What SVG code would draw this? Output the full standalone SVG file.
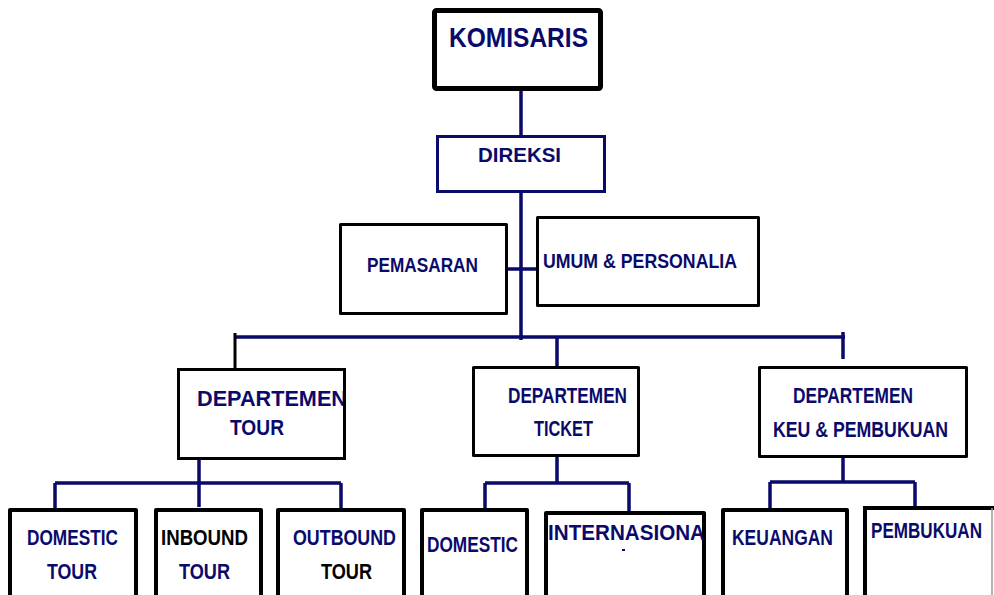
<svg xmlns="http://www.w3.org/2000/svg" width="994" height="595" viewBox="0 0 994 595">
<style>
.box{fill:#fff;stroke:#000;stroke-width:3;stroke-linejoin:round}
.bb{fill:#fff;stroke:#000;stroke-width:4;stroke-linejoin:round}
.t{font-family:"Liberation Sans",Arial,sans-serif;font-weight:bold;fill:#0a0a6b;font-size:21.5px}
.k{fill:#000}
.s{font-size:19.5px}
.c{fill:none;stroke:#0a0a6b;stroke-width:3.5}
.cb{fill:none;stroke:#000;stroke-width:3}
</style>
<rect width="994" height="595" fill="#fff"/>
<g id="connectors">
<path class="c" d="M521 91V135M521 193V340M508 269H537M234 337H845M843 332V359M557 337V366"/>
<path class="cb" d="M235 333V369"/>
<path class="c" d="M199 457V507M55 483H341M55 483V508M341 483V508"/>
<path class="c" d="M557 457V483M485 483H629M485 483V508M629 483V511"/>
<path class="c" d="M843 458V482M770 482H915M770 482V508M915 482V506"/>
</g>
<g id="komisaris">
<rect x="434.5" y="10.5" width="166" height="78" rx="2" fill="#fff" stroke="#000" stroke-width="5"/>
<text class="t" x="449" y="47" textLength="139" lengthAdjust="spacingAndGlyphs" style="font-size:28px">KOMISARIS</text>
</g>
<g id="direksi">
<rect x="437.5" y="136.5" width="167" height="55" fill="#fff" stroke="#0a0a6b" stroke-width="3"/>
<text class="t s" x="478" y="162" textLength="83" lengthAdjust="spacingAndGlyphs">DIREKSI</text>
</g>
<g id="pemasaran">
<rect class="box" x="340.5" y="224.5" width="166" height="89"/>
<text class="t s" x="367" y="272" textLength="111" lengthAdjust="spacingAndGlyphs">PEMASARAN</text>
</g>
<g id="umum">
<rect class="box" x="537.5" y="217.5" width="221" height="88"/>
<text class="t s" x="543" y="268" textLength="194" lengthAdjust="spacingAndGlyphs">UMUM &amp; PERSONALIA</text>
</g>
<g id="dept-tour">
<text class="t" x="197" y="406" textLength="150" lengthAdjust="spacingAndGlyphs">DEPARTEMEN</text>
<rect x="178.5" y="369.5" width="166" height="89" fill="none" stroke="#000" stroke-width="3"/>
<text class="t" x="230" y="435" textLength="54" lengthAdjust="spacingAndGlyphs">TOUR</text>
</g>
<g id="dept-ticket">
<rect class="box" x="473.5" y="367.5" width="165" height="88"/>
<text class="t" x="508" y="403" textLength="119" lengthAdjust="spacingAndGlyphs">DEPARTEMEN</text>
<text class="t" x="534" y="436" textLength="59" lengthAdjust="spacingAndGlyphs">TICKET</text>
</g>
<g id="dept-keu">
<rect class="box" x="759.5" y="367.5" width="207" height="89"/>
<text class="t" x="793" y="403" textLength="120" lengthAdjust="spacingAndGlyphs">DEPARTEMEN</text>
<text class="t" x="773" y="437" textLength="175" lengthAdjust="spacingAndGlyphs">KEU &amp; PEMBUKUAN</text>
</g>
<g id="domestic-tour">
<rect class="bb" x="10" y="510" width="126" height="100"/>
<text class="t" x="27" y="545" textLength="91" lengthAdjust="spacingAndGlyphs">DOMESTIC</text>
<text class="t" x="47" y="579" textLength="50" lengthAdjust="spacingAndGlyphs">TOUR</text>
</g>
<g id="inbound-tour">
<rect class="bb" x="156" y="510" width="105" height="100"/>
<text class="t k" x="161" y="545" textLength="87" lengthAdjust="spacingAndGlyphs">INBOUND</text>
<text class="t" x="179" y="579" textLength="51" lengthAdjust="spacingAndGlyphs">TOUR</text>
</g>
<g id="outbound-tour">
<rect class="bb" x="278" y="510" width="126" height="100"/>
<text class="t" x="293" y="545" textLength="103" lengthAdjust="spacingAndGlyphs">OUTBOUND</text>
<text class="t k" x="321" y="579" textLength="51" lengthAdjust="spacingAndGlyphs">TOUR</text>
</g>
<g id="domestic">
<rect class="bb" x="422" y="510" width="105" height="100"/>
<text class="t" x="427" y="552" textLength="91" lengthAdjust="spacingAndGlyphs">DOMESTIC</text>
</g>
<g id="internasional">
<rect class="bb" x="546" y="513" width="158" height="100"/>
<text class="t" x="548" y="540" textLength="157" lengthAdjust="spacingAndGlyphs">INTERNASIONA</text>
<rect x="622" y="549" width="3" height="2" fill="#0a0a6b"/>
</g>
<g id="keuangan">
<rect class="bb" x="723" y="510" width="124" height="100"/>
<text class="t" x="732" y="545" textLength="101" lengthAdjust="spacingAndGlyphs">KEUANGAN</text>
</g>
<g id="pembukuan">
<rect x="865" y="508" width="127" height="100" fill="#fff"/>
<path d="M865 610V508H994" fill="none" stroke="#000" stroke-width="4"/>
<path d="M992 508V595" fill="none" stroke="#999" stroke-width="1.5"/>
<text class="t" x="871" y="538" textLength="111" lengthAdjust="spacingAndGlyphs">PEMBUKUAN</text>
</g>
</svg>
